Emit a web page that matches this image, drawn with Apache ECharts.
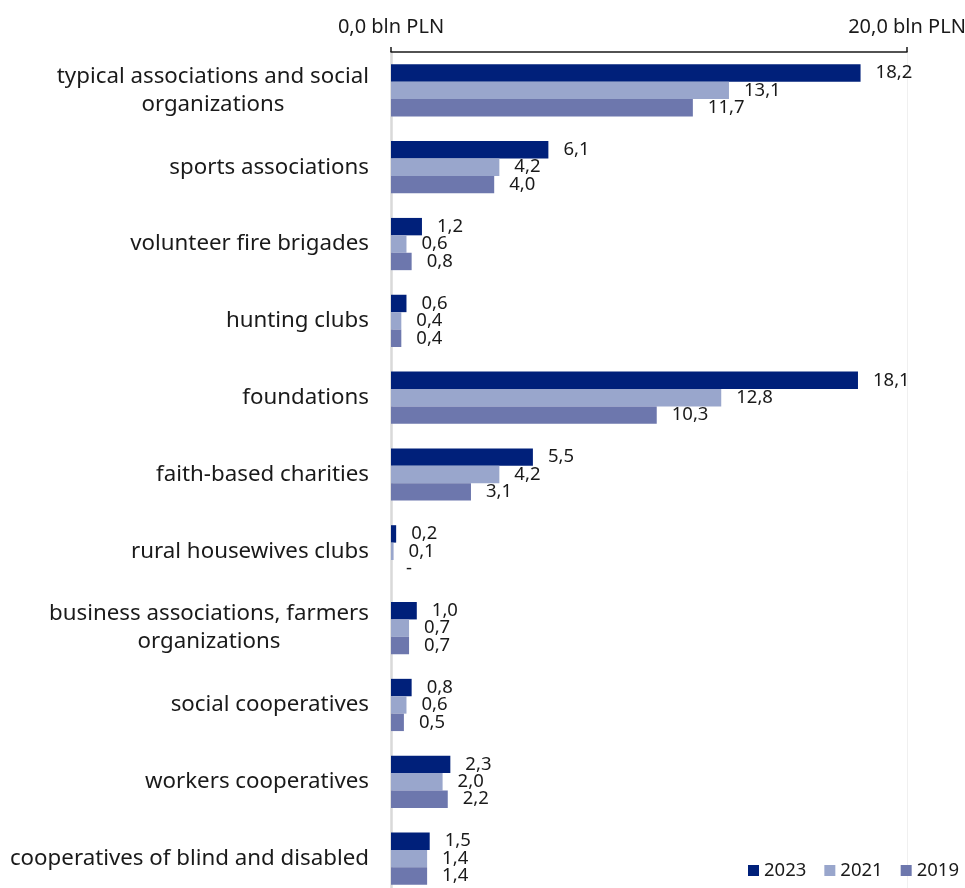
<!DOCTYPE html>
<html><head><meta charset="utf-8">
<script src="https://cdn.jsdelivr.net/npm/echarts@6/dist/echarts.min.js"></script>
<style>html,body{margin:0;padding:0;background:#fff}#c{width:965px;height:888px}</style>
</head><body><div id="c"></div>
<script>
const categories = ['typical associations and social\norganizations', 'sports associations', 'volunteer fire brigades', 'hunting clubs', 'foundations', 'faith-based charities', 'rural housewives clubs', 'business associations, farmers\norganizations', 'social cooperatives', 'workers cooperatives', 'cooperatives of blind and disabled'];
const seriesNames = ['2023', '2021', '2019'];
const v2023 = [18.2, 6.1, 1.2, 0.6, 18.1, 5.5, 0.2, 1.0, 0.8, 2.3, 1.5];
const v2021 = [13.1, 4.2, 0.6, 0.4, 12.8, 4.2, 0.1, 0.7, 0.6, 2.0, 1.4];
const v2019 = [11.7, 4.0, 0.8, 0.4, 10.3, 3.1, 0, 0.7, 0.5, 2.2, 1.4];
const xTicks = [0, 20];

const colors = ['#00207a', '#99a6cc', '#6d77ad'];
const FONT = 'Noto Sans';
const fmt = v => v === 0 ? '-' : v.toFixed(1).replace('.', ',');
const chart = echarts.init(document.getElementById('c'), null, {renderer: 'canvas'});
const mk = (name, data, i) => ({
  name, type: 'bar', data, barGap: '0%', barCategoryGap: '32%',
  itemStyle: {color: colors[i]},
  label: {show: true, position: 'right', distance: 15, fontFamily: FONT, fontSize: 18.5, color: '#1a1a1a',
    formatter: p => fmt(p.value)}
});
chart.setOption({
  animation: false,
  textStyle: {fontFamily: FONT},
  legend: {
    data: seriesNames, right: 1, top: 856, itemWidth: 11, itemHeight: 11, itemGap: 18, icon: 'rect',
    textStyle: {fontFamily: FONT, fontSize: 18.5, color: '#1a1a1a'}
  },
  grid: {left: 391, right: 58, top: 52, height: 845, containLabel: false, outerBoundsMode: 'none'},
  xAxis: {
    type: 'value', position: 'top', min: xTicks[0], max: xTicks[1], interval: 20,
    axisLine: {show: true, lineStyle: {color: '#1a1a1a', width: 1.5}},
    axisTick: {show: true, length: 5, lineStyle: {color: '#1a1a1a', width: 1.5}},
    axisLabel: {margin: 15, fontFamily: FONT, fontSize: 20, color: '#1a1a1a',
      formatter: v => v.toFixed(1).replace('.', ',') + ' bln PLN'},
    splitLine: {show: true, lineStyle: {color: '#f0f0f0', width: 1}}
  },
  yAxis: {
    type: 'category', data: categories, inverse: true,
    axisLine: {show: true, lineStyle: {color: '#d9d9d9', width: 2.5}},
    axisTick: {show: false},
    axisLabel: {margin: 22, fontFamily: FONT, fontSize: 22.3, color: '#1a1a1a', lineHeight: 28,
      formatter: v => v.split('\n').map(s => '{c|' + s + '}').join('\n'),
      rich: {
        c: {align: 'center', fontFamily: FONT, fontSize: 22.3, color: '#1a1a1a', lineHeight: 28}
      }}
  },
  series: [mk('2023', v2023, 0), mk('2021', v2021, 1), mk('2019', v2019, 2)]
});
</script></body></html>
